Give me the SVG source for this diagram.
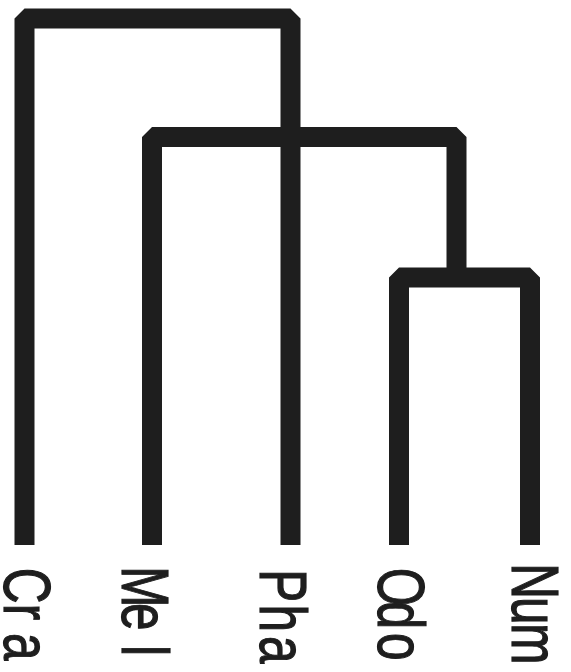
<svg xmlns="http://www.w3.org/2000/svg" width="571" height="672" viewBox="0 0 571 672">
<style>
.br{fill:none;stroke:#1e1e1e;stroke-width:20;stroke-linejoin:bevel;stroke-linecap:butt}
.lb{font-family:"Liberation Sans",Arial,sans-serif;font-size:66px;fill:#1e1e1e;stroke:#1e1e1e;stroke-width:1.2}
</style>
<rect width="571" height="672" fill="#fff"/>
<g id="connectors">
<path class="br" d="M24.5 545 V18.5 H290.5 V545"/>
<path class="br" d="M152 545 V137 H456.5 V277"/>
<path class="br" d="M399 545 V277.5 H530 V545"/>
</g>
<g id="Cra"><text class="lb" transform="translate(4,0) rotate(90) scale(0.75,1)" x="757 805 844" y="0">Cra</text></g>
<g id="Mel"><text class="lb" transform="translate(122,0) rotate(90) scale(0.75,1)" x="755 804 860" y="0">Mel</text></g>
<g id="Pha"><text class="lb" transform="translate(260,0) rotate(90) scale(0.75,1)" x="759 806 848" y="0">Pha</text></g>
<g id="Odo"><text class="lb" transform="translate(378,0) rotate(90) scale(0.75,1)" x="757 802 844" y="0">Odo</text></g>
<g id="Num"><text class="lb" transform="translate(512,0) rotate(90) scale(0.75,1)" x="751 796 831" y="0">Num</text></g>
</svg>
